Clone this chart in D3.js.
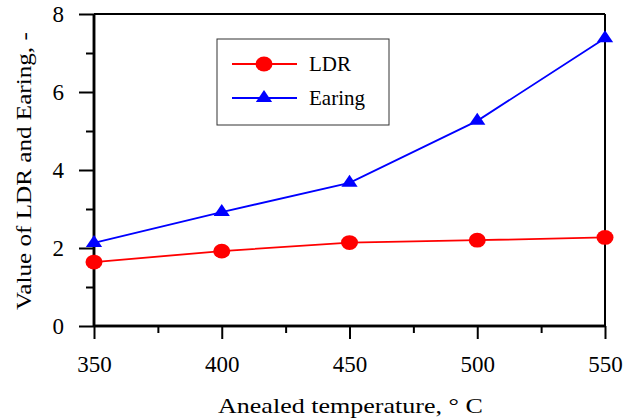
<!DOCTYPE html>
<html>
<head>
<meta charset="utf-8">
<script src="https://cdn.jsdelivr.net/npm/d3@7"></script>
<style>
  body { margin: 0; background: #fff; }
</style>
</head>
<body>
<svg id="chart" width="639" height="419"></svg>
<script>
let temps = [350, 400, 450, 500, 550];
let ldr = [1.64, 1.92, 2.14, 2.2, 2.27];
let earing = [2.13, 2.92, 3.67, 5.26, 7.38];
let xticks = [350, 400, 450, 500, 550];
let yticks = [0, 2, 4, 6, 8];
let seriesNames = ["LDR", "Earing"];

const FONT = "Liberation Serif";
let svg = d3.select("#chart");
let margin = {left: 94, right: 34, top: 14, bottom: 93};
let w = 639 - margin.left - margin.right;
let h = 419 - margin.top - margin.bottom;
let g = svg.append("g").attr("transform", `translate(${margin.left},${margin.top})`);

let scx = d3.scaleLinear([350, 550], [0, w]);
let scy = d3.scaleLinear([0, 8], [h, 0]);

// frame: top and right edges
g.append("line").attr("x1", 0).attr("x2", w).attr("y1", 0).attr("y2", 0)
    .attr("stroke", "black").attr("stroke-width", 2);
g.append("line").attr("x1", w).attr("x2", w).attr("y1", 0).attr("y2", h)
    .attr("stroke", "black").attr("stroke-width", 2);

// y axis
g.append("g").call(d3.axisLeft(scy).tickValues(yticks).tickSize(15).tickPadding(15).tickFormat(d3.format("d")));
g.append("g").call(d3.axisLeft(scy).tickValues([1, 3, 5, 7]).tickSize(8).tickFormat(""));
// x axis
g.append("g").attr("class", "xax").attr("transform", `translate(0,${h})`)
    .call(d3.axisBottom(scx).tickValues(xticks).tickSize(13).tickPadding(17).tickFormat(d3.format("d")));
g.append("g").attr("class", "xax").attr("transform", `translate(0,${h})`)
    .call(d3.axisBottom(scx).tickValues([375, 425, 475, 525]).tickSize(7).tickFormat(""));

g.selectAll(".domain").attr("stroke-width", 2.5).attr("d", function() {
    return d3.select(this.parentNode).classed("xax") ? `M0,0H${w}` : `M0,0V${h}`;
});
g.selectAll(".tick line").attr("stroke-width", 2);
g.selectAll("g").attr("font-family", FONT);
g.selectAll(".tick text").attr("font-size", 23).attr("font-family", FONT).attr("fill", "#000");

// lines
let line = d3.line().x((d, i) => scx(temps[i])).y(d => scy(d));
g.append("path").datum(ldr).attr("fill", "none").attr("stroke", "#ff0000").attr("stroke-width", 1.8).attr("d", line);
g.append("path").datum(earing).attr("fill", "none").attr("stroke", "#0000ff").attr("stroke-width", 1.8).attr("d", line);

let tri = d3.symbol().type(d3.symbolTriangle).size(115);
g.selectAll(".ldrpt").data(ldr).join("ellipse")
    .attr("class", "ldrpt")
    .attr("cx", (d, i) => scx(temps[i])).attr("cy", d => scy(d))
    .attr("rx", 8.5).attr("ry", 7.4).attr("fill", "#ff0000");
g.selectAll(".earpt").data(earing).join("path")
    .attr("class", "earpt")
    .attr("transform", (d, i) => `translate(${scx(temps[i])},${scy(d)}) scale(1.0,0.85)`)
    .attr("d", tri).attr("fill", "#0000ff");

// legend
let lg = svg.append("g").attr("transform", "translate(217,39)");
lg.append("rect").attr("width", 172).attr("height", 86).attr("fill", "white")
    .attr("stroke", "#333").attr("stroke-width", 1);
let colors = ["#ff0000", "#0000ff"];
seriesNames.forEach((name, i) => {
    let yy = 25 + i * 34;
    lg.append("line").attr("x1", 15).attr("x2", 80).attr("y1", yy).attr("y2", yy)
        .attr("stroke", colors[i]).attr("stroke-width", 1.8);
    if (i === 0) {
        lg.append("ellipse").attr("cx", 47).attr("cy", yy).attr("rx", 8.5).attr("ry", 7.4).attr("fill", colors[i]);
    } else {
        lg.append("path").attr("d", tri).attr("transform", `translate(47,${yy}) scale(1.0,0.85)`).attr("fill", colors[i]);
    }
    lg.append("text").attr("x", 92).attr("y", yy + 7).attr("font-size", 21)
        .attr("font-family", FONT).attr("fill", "#000").text(name);
});

// axis titles, stretched horizontally to the reference's length
function fitTitle(sel, target, base) {
    let len = sel.node().getComputedTextLength();
    sel.attr("transform", `${base} scale(${target / len},1)`);
}
let xt = svg.append("text").attr("x", 0).attr("y", 0).attr("font-size", 22).attr("font-family", FONT)
    .attr("fill", "#000").text("Anealed temperature,  \u00b0 C");
fitTitle(xt, 265, "translate(218,413)");
let yt = svg.append("text").attr("x", 0).attr("y", 0).attr("font-size", 22).attr("font-family", FONT)
    .attr("fill", "#000").text("Value of LDR and Earing, -");
fitTitle(yt, 278, "translate(31,310) rotate(-90)");
</script>
</body>
</html>
